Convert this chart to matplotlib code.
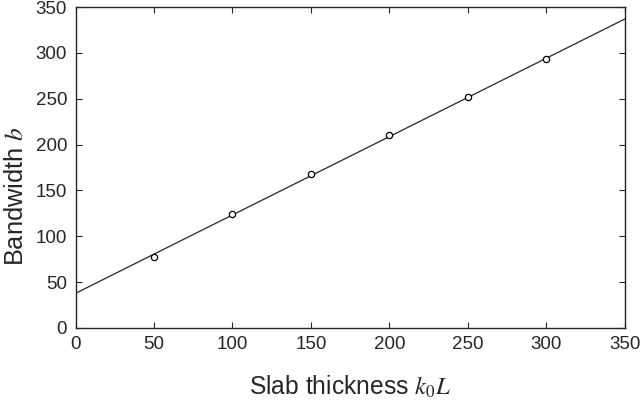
import numpy as np
import matplotlib
matplotlib.use('Agg')
import matplotlib.pyplot as plt

# Data
thickness = [50, 100, 150, 200, 250, 300]
bandwidth = [77.7, 124.3, 168, 210.5, 252, 293]
fit_x = [0, 350]
fit_y = [37.8, 337]

plt.rcParams['font.family'] = ['Liberation Sans', 'DejaVu Sans']
plt.rcParams['mathtext.fontset'] = 'stix'

fig = plt.figure(figsize=(6.41, 4.08), dpi=100)
ax = fig.add_axes([75.5 / 641, 1 - 328 / 408, (625 - 75.5) / 641, (328 - 7) / 408])

ax.plot(fit_x, fit_y, color='#262626', linewidth=0.9)
ax.plot(thickness, bandwidth, 'o', markerfacecolor='white', markeredgecolor='black',
        markersize=4.5, markeredgewidth=0.9)

ax.set_xlim(0, 350)
ax.set_ylim(0, 350)
ax.set_xticks(np.arange(0, 351, 50))
ax.set_yticks(np.arange(0, 351, 50))
ax.tick_params(direction='in', top=True, right=True, length=4, width=0.8,
               labelsize=13.5, colors='#262626', pad=6)
for s in ax.spines.values():
    s.set_color('#262626')
    s.set_linewidth(1.0)

ax.set_xlabel(r'Slab thickness $k_{\mathit{0}}L$', fontsize=17.7, color='#262626', labelpad=15)
ax.set_ylabel(r'Bandwidth $b$', fontsize=18.3, color='#262626')
ax.yaxis.set_label_coords(-0.087, 0.41)

fig.savefig('out.png', dpi=100)
